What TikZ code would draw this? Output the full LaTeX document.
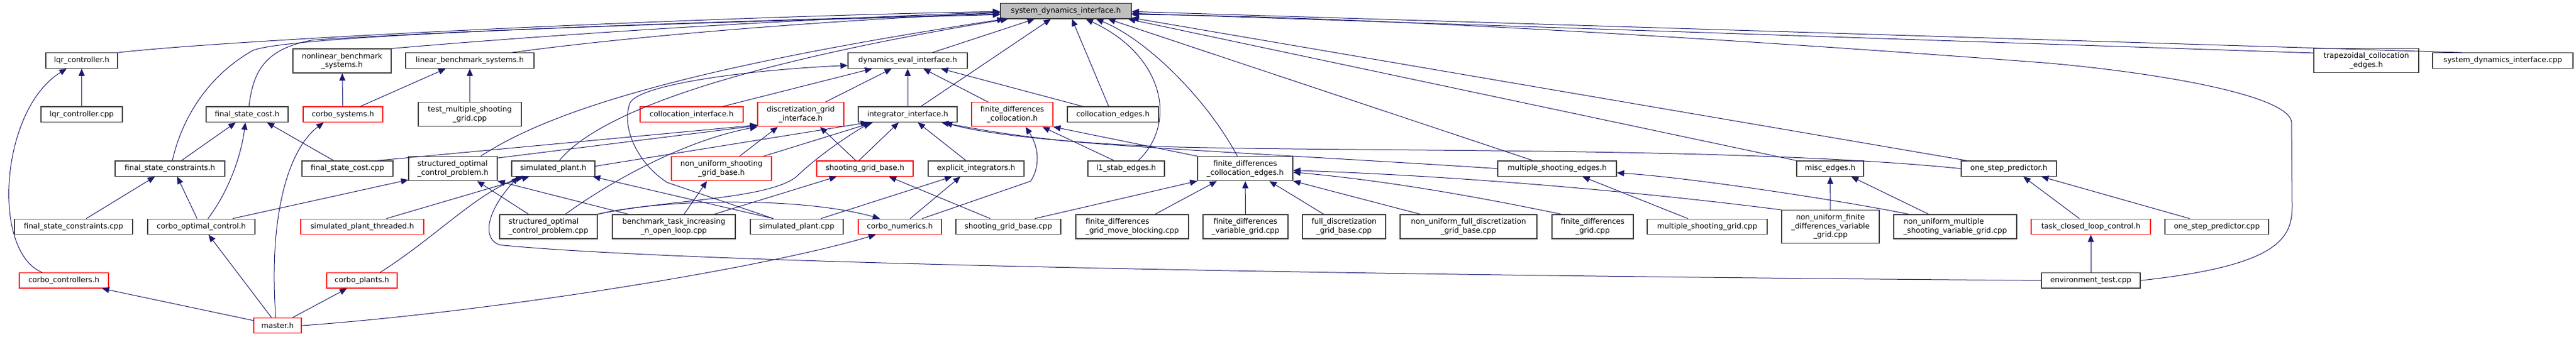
\documentclass[tikz,border=0pt]{standalone}
\usepackage{fontspec}
\newfontfamily\dejavu{DejaVu Sans}
\usetikzlibrary{arrows.meta}
\definecolor{edgeblue}{HTML}{191970}
\definecolor{boxgrey}{HTML}{404040}
\definecolor{boxred}{HTML}{FF0000}
\definecolor{rootfill}{HTML}{BFBFBF}
\tikzset{
  file/.style={draw=boxgrey, line width=1.2pt, inner sep=0pt, align=center,
    minimum height=25.5pt, font={\dejavu\fontsize{12.3pt}{14.5pt}\selectfont}},
  twoline/.style={minimum height=40pt},
  cut/.style={draw=boxred},
  incl/.style={draw=edgeblue, line width=1pt, -{Triangle[length=12pt,width=10pt]}}
}
\begin{document}
\begin{tikzpicture}[x=1pt,y=-1.0695pt]
\useasboundingbox (0,0) rectangle (4274,522.67);

% row 0
\node[file, fill=rootfill, minimum width=217pt] (sdi) at (1768.5,17) {system\_dynamics\_interface.h};

% row 1
\node[file, minimum width=119pt] (lqrh) at (135.5,94) {lqr\_controller.h};
\node[file, twoline, minimum width=163pt] (nlb) at (567.5,94.5) {nonlinear\_benchmark\\\_systems.h};
\node[file, minimum width=213pt] (lb) at (779.5,94) {linear\_benchmark\_systems.h};
\node[file, minimum width=198pt] (dei) at (1506,94) {dynamics\_eval\_interface.h};
\node[file, twoline, minimum width=174pt] (trap) at (3926,94) {trapezoidal\_collocation\\\_edges.h};
\node[file, minimum width=233pt] (sdicpp) at (4152.5,94) {system\_dynamics\_interface.cpp};

% row 2
\node[file, minimum width=135pt] (lqrcpp) at (135.5,177.5) {lqr\_controller.cpp};
\node[file, minimum width=136pt] (fsc) at (410,177.5) {final\_state\_cost.h};
\node[file, cut, minimum width=132pt] (sys) at (569,177.5) {corbo\_systems.h};
\node[file, twoline, minimum width=171pt] (tmsg) at (779.5,177.5) {test\_multiple\_shooting\\\_grid.cpp};
\node[file, cut, minimum width=171pt] (ci) at (1147.5,177.5) {collocation\_interface.h};
\node[file, cut, twoline, minimum width=143pt] (dgi) at (1328.5,177.5) {discretization\_grid\\\_interface.h};
\node[file, minimum width=164pt] (ii) at (1506,177.5) {integrator\_interface.h};
\node[file, cut, twoline, minimum width=135pt] (fdc) at (1679.5,177.5) {finite\_differences\\\_collocation.h};
\node[file, minimum width=151pt] (ce) at (1846.5,177.5) {collocation\_edges.h};

% row 3
\node[file, minimum width=182pt] (fscon) at (282,261.5) {final\_state\_constraints.h};
\node[file, minimum width=151pt] (fsccpp) at (576.5,261.5) {final\_state\_cost.cpp};
\node[file, twoline, minimum width=147pt, align=left] (sop) at (751.5,261.5) {structured\_optimal\\\_control\_problem.h};
\node[file, minimum width=138pt] (sp) at (918,261.5) {simulated\_plant.h};
\node[file, cut, twoline, minimum width=166pt] (nusgb) at (1197,261.5) {non\_uniform\_shooting\\\_grid\_base.h};
\node[file, cut, minimum width=160pt] (sgb) at (1435,261.5) {shooting\_grid\_base.h};
\node[file, minimum width=159pt] (ei) at (1619.5,261.5) {explicit\_integrators.h};
\node[file, minimum width=127pt] (l1) at (1868.5,261.5) {l1\_stab\_edges.h};
\node[file, twoline, minimum width=158pt] (fdce) at (2066,261.5) {finite\_differences\\\_collocation\_edges.h};
\node[file, minimum width=197pt] (mse) at (2583.5,261.5) {multiple\_shooting\_edges.h};
\node[file, minimum width=111pt] (misc) at (3036.5,261.5) {misc\_edges.h};
\node[file, minimum width=158pt] (osp) at (3333,261.5) {one\_step\_predictor.h};

% row 4
\node[file, minimum width=196pt] (fsconcpp) at (122,351.5) {final\_state\_constraints.cpp};
\node[file, minimum width=178pt] (coc) at (334,351.5) {corbo\_optimal\_control.h};
\node[file, cut, minimum width=204pt] (spt) at (601,351.5) {simulated\_plant\_threaded.h};
\node[file, twoline, minimum width=162pt, align=left] (sopcpp) at (910,351.5) {structured\_optimal\\\_control\_problem.cpp};
\node[file, twoline, minimum width=204pt] (bench) at (1118,351.5) {benchmark\_task\_increasing\\\_n\_open\_loop.cpp};
\node[file, minimum width=154pt] (spcpp) at (1322,351.5) {simulated\_plant.cpp};
\node[file, cut, minimum width=138pt] (num) at (1493,351.5) {corbo\_numerics.h};
\node[file, minimum width=174pt] (sgbcpp) at (1673,351.5) {shooting\_grid\_base.cpp};
\node[file, twoline, minimum width=187pt, align=left] (fdgmb) at (1878.5,351.5) {finite\_differences\\\_grid\_move\_blocking.cpp};
\node[file, twoline, minimum width=141pt] (fdvg) at (2066.5,351.5) {finite\_differences\\\_variable\_grid.cpp};
\node[file, twoline, minimum width=138pt] (fdgb) at (2230,351.5) {full\_discretization\\\_grid\_base.cpp};
\node[file, twoline, minimum width=227pt] (nufdgb) at (2436.5,351.5) {non\_uniform\_full\_discretization\\\_grid\_base.cpp};
\node[file, twoline, minimum width=135pt] (fdg) at (2642.5,351.5) {finite\_differences\\\_grid.cpp};
\node[file, minimum width=199pt] (msg) at (2832.5,351.5) {multiple\_shooting\_grid.cpp};
\node[file, minimum width=162pt, minimum height=54.5pt] (nufdvg) at (3037,351.5) {non\_uniform\_finite\\\_differences\_variable\\\_grid.cpp};
\node[file, twoline, minimum width=204pt, align=left] (numsvg) at (3244,351.5) {non\_uniform\_multiple\\\_shooting\_variable\_grid.cpp};
\node[file, cut, minimum width=198pt] (tclc) at (3469,351.5) {task\_closed\_loop\_control.h};
\node[file, minimum width=172pt] (ospcpp) at (3678,351.5) {one\_step\_predictor.cpp};

% row 5 and 6
\node[file, cut, minimum width=148pt] (ctrl) at (106,435) {corbo\_controllers.h};
\node[file, cut, minimum width=117pt] (plants) at (600.5,435) {corbo\_plants.h};
\node[file, minimum width=164pt] (envt) at (3469,435) {environment\_test.cpp};
\node[file, cut, minimum width=79pt] (master) at (460.5,505) {master.h};

% edges into system_dynamics_interface.h
\draw[incl] (lqrh.north east) .. controls (400,60) and (1200,25) .. ([yshift=-1]sdi.west);
\draw[incl] (nlb.north east) .. controls (900,55) and (1300,30) .. ([yshift=-2]sdi.west);
\draw[incl] ([xshift=70]lb.north) .. controls (1000,62) and (1300,35) .. ([yshift=-3]sdi.west);
\draw[incl] ([xshift=3]fsc.north) .. controls (420,110) and (440,75) .. (520,62)
  .. controls (800,45) and (1300,30) .. ([yshift=-5]sdi.west);
\draw[incl] ([xshift=4]fscon.north) .. controls (300,190) and (340,120) .. (420,78)
  .. controls (500,50) and (1300,32) .. ([yshift=-6]sdi.west);
\draw[incl] ([xshift=46]sop.north) .. controls (900,180) and (1100,110) .. ([xshift=-102]sdi.south);
\draw[incl] ([xshift=10]sp.north) .. controls (980,190) and (1150,110) .. ([xshift=-96]sdi.south);
\draw[incl] ([xshift=41]dei.north) -- ([xshift=-52]sdi.south);
\draw[incl] ([xshift=22]ii.north) -- ([xshift=-25]sdi.south);
\draw[incl] ([xshift=-7]ce.north) -- ([xshift=10]sdi.south);
\draw[incl] ([xshift=20]l1.north) .. controls (1955,190) and (1930,85) .. ([xshift=33]sdi.south);
\draw[incl] ([xshift=-13]fdce.north) .. controls (2000,150) and (1900,60) .. ([xshift=50]sdi.south);
\draw[incl] ([xshift=-40]mse.north) -- ([xshift=70]sdi.south);
\draw[incl] (misc.north west) -- ([xshift=-6]sdi.south east);
\draw[incl] ([xshift=-70]osp.north) -- ([yshift=2]sdi.south east);
\draw[incl] ([yshift=-8]trap.north west) -- ([yshift=-4]sdi.east);
\draw[incl] ([xshift=-68]sdicpp.north) -- ([yshift=-1]sdi.east);
\draw[incl] (envt.east) .. controls (3780,412) and (3803,370) .. (3803,320)
  -- (3802,190) .. controls (3800,150) and (3600,115) .. (3400,98)
  .. controls (2800,55) and (2200,24) .. ([yshift=-6]sdi.east);

% edges into dynamics_eval_interface.h
\draw[incl] (ii) -- (dei);
\draw[incl] (dgi) -- (dei);
\draw[incl] (fdc) -- (dei);
\draw[incl] ([xshift=-50]ce.north) -- ([xshift=55]dei.south);
\draw[incl] ([xshift=52]ci.north) -- ([xshift=-59]dei.south);
\draw[incl] ([xshift=-39]spcpp.north) -- (1107,283) .. controls (1060,255) and (1030,200) .. (1045,160)
  .. controls (1060,130) and (1250,108) .. ([yshift=-8]dei.west);

% edges into integrator_interface.h
\draw[incl] ([xshift=-10]sgb.north) -- ([xshift=-15]ii.south);
\draw[incl] (ei) -- (ii);
\draw[incl] (osp.west) .. controls (2900,228) and (2300,236) .. (1950,228)
  .. controls (1750,222) and (1620,205) .. ([xshift=62]ii.south);
\draw[incl] (mse.west) .. controls (2300,250) and (2000,235) .. (1850,225)
  .. controls (1700,215) and (1620,200) .. ([xshift=56]ii.south);
\draw[incl] ([yshift=4]sp.east) -- ([xshift=-66]ii.south);
\draw[incl] ([xshift=70]nusgb.north) -- ([xshift=-58]ii.south);
\draw[incl] (sopcpp.north east) .. controls (1100,310) and (1270,310) .. (1320,275)
  .. controls (1360,240) and (1400,215) .. ([xshift=-62]ii.south);

% edges into discretization_grid_interface.h
\draw[incl] ([xshift=-15]sgb.north) -- ([xshift=32]dgi.south);
\draw[incl] ([xshift=30]nusgb.north) -- ([xshift=-38]dgi.south);
\draw[incl] ([yshift=-3]sop.north east) -- ([yshift=2]dgi.south west);
\draw[incl] ([xshift=50]fsccpp.north) -- ([yshift=3]dgi.south west);
\draw[incl] ([xshift=28]sopcpp.north) .. controls (1030,270) and (1150,215) .. (dgi.south west);

% edges into finite_differences_collocation.h
\draw[incl] (fdce.north west) -- (fdc.south east);
\draw[incl] ([xshift=-20]l1.north) -- ([xshift=50]fdc.south);
\draw[incl] ([xshift=37]num.north) -- (1710,281) .. controls (1725,260) and (1725,230) .. ([xshift=22]fdc.south);

% edges into the third row
\draw[incl] ([xshift=-30]sgbcpp.north) -- ([xshift=40]sgb.south);
\draw[incl] ([xshift=67]bench.north) -- ([xshift=-47]sgb.south);
\draw[incl] ([xshift=17]num.north) -- ([xshift=-26]ei.south);
\draw[incl] ([xshift=40]spcpp.north) -- ([xshift=-40]ei.south);
\draw[incl] ([xshift=17]bench.north) -- ([xshift=-24]nusgb.south);
\draw[incl] ([xshift=52]coc.north) -- ([yshift=2]sop.south west);
\draw[incl] ([xshift=-33]sopcpp.north) -- ([xshift=40]sop.south);
\draw[incl] ([xshift=27]bench.north west) -- (sop.south east);
\draw[incl] ([xshift=40]spt.north) -- ([xshift=-40]sp.south);
\draw[incl] ([xshift=30]plants.north) .. controls (720,370) and (790,300) .. ([xshift=-50]sp.south);
\draw[incl] (envt.west) .. controls (2000,425) and (1100,405) .. (830,380)
  .. controls (800,372) and (805,330) .. ([xshift=-58]sp.south);
\draw[incl] ([xshift=-39]spcpp.north) -- ([xshift=66]sp.south);
\draw[incl] (fscon) -- (fsc);
\draw[incl] ([xshift=-23]fsccpp.north) -- ([xshift=33]fsc.south);
\draw[incl] ([xshift=11]coc.north) .. controls (385,290) and (402,230) .. ([xshift=-3]fsc.south);
\draw[incl] ([xshift=21]fsconcpp.north) -- ([xshift=-25]fscon.south);
\draw[incl] ([xshift=-7]coc.north) -- ([xshift=12]fscon.south);
\draw[incl] (lqrcpp) -- (lqrh);
\draw[incl] ([xshift=-36]ctrl.north) .. controls (-15,390) and (0,170) .. ([xshift=-25]lqrh.south);
\draw[incl] (sys) -- (nlb);
\draw[incl] ([xshift=29]sys.north) -- ([xshift=-40]lb.south);
\draw[incl] (tmsg) -- (lb);
\draw[incl] (sopcpp.north east) .. controls (1100,308) and (1330,305) .. ([xshift=-33]num.north);

% edges into finite_differences_collocation_edges.h
\draw[incl] ([xshift=44]sgbcpp.north) -- (fdce.south west);
\draw[incl] ([xshift=38]fdgmb.north) -- ([xshift=-47]fdce.south);
\draw[incl] (fdvg) -- (fdce);
\draw[incl] (fdgb) -- ([xshift=40]fdce.south);
\draw[incl] ([xshift=-80]nufdgb.north) -- (fdce.south east);
\draw[incl] ([xshift=-52]fdg.north) .. controls (2450,305) and (2300,280) .. ([yshift=-6]fdce.east);
\draw[incl] (nufdvg.north west) .. controls (2700,295) and (2400,272) .. ([yshift=-3]fdce.east);

% remaining edges
\draw[incl] ([xshift=-32]msg.north) -- ([xshift=42]mse.south);
\draw[incl] ([xshift=-77]numsvg.north) .. controls (3050,310) and (2800,275) .. ([yshift=-7]mse.east);
\draw[incl] (nufdvg) -- (misc);
\draw[incl] ([xshift=-44]numsvg.north) -- ([xshift=35]misc.south);
\draw[incl] ([xshift=-19]tclc.north) -- ([xshift=24]osp.south);
\draw[incl] ([xshift=-45]ospcpp.north) -- ([xshift=54]osp.south);
\draw[incl] (envt) -- (tclc);
\draw[incl] (master) -- (ctrl);
\draw[incl] ([xshift=-10]master.north) -- ([xshift=12]coc.south);
\draw[incl] ([xshift=-3]master.north) .. controls (445,330) and (480,230) .. ([xshift=-32]sys.south);
\draw[incl] (master) -- (plants);
\draw[incl] (master.east) .. controls (800,485) and (1250,420) .. ([xshift=-40]num.south);
\end{tikzpicture}
\end{document}
